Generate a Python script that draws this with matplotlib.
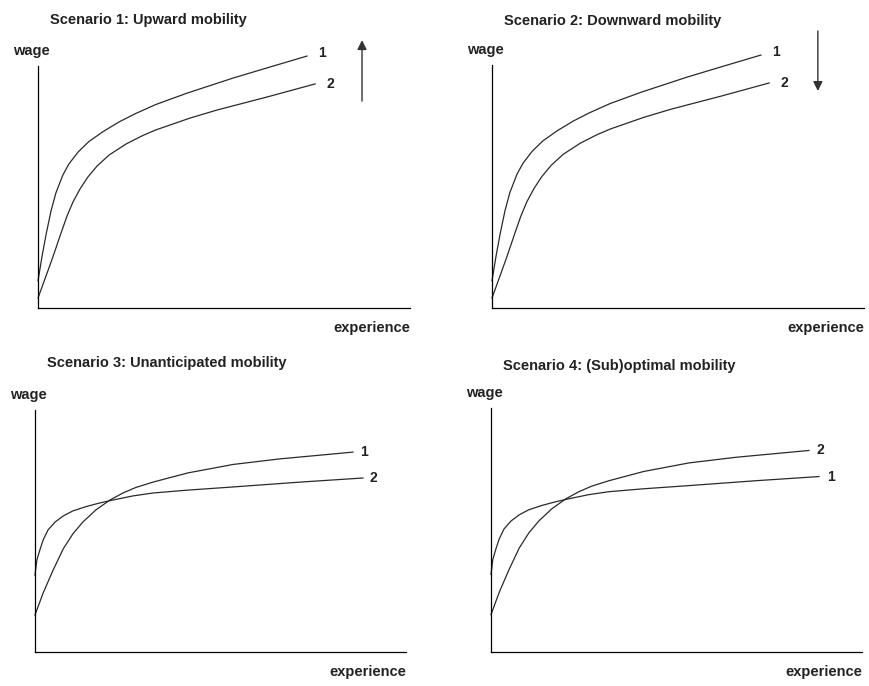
import matplotlib
matplotlib.use('Agg')
import matplotlib.pyplot as plt

W, H = 869, 686

# curves, in axis units (0-100 along each drawn axis)
# scenario 1 and 2 use the same two profiles
high_x = [0, 1.1, 2.2, 3.5, 4.8, 6.7, 8.3, 10.8, 13.7, 17.5, 21.8, 26.3, 31.7, 40.1, 52.4, 62.4, 72.3]
high_y = [11.2, 21.5, 30.6, 40.1, 47.5, 55.0, 59.5, 64.5, 68.8, 72.9, 76.9, 80.4, 84.1, 88.8, 95.0, 99.6, 104.1]
low_x = [0, 3.8, 6.2, 7.8, 9.4, 11.3, 13.4, 15.9, 19.1, 23.7, 28.2, 31.7, 40.9, 48.1, 61.6, 74.5]
low_y = [4.1, 20.2, 31.0, 38.0, 43.8, 49.2, 54.1, 58.7, 63.2, 67.8, 71.3, 73.6, 78.5, 81.8, 87.2, 92.6]

# scenario 3 and 4: one profile flattens early, the other keeps rising
flat_x = [0, 0.5, 1.4, 2.2, 3.5, 5.4, 7.6, 10.2, 13.8, 17.5, 21.0, 26.4, 31.8, 41.2, 53.4, 71.4, 88.4]
flat_y = [31.8, 38.0, 42.6, 46.3, 50.4, 53.7, 56.2, 58.3, 60.1, 61.6, 62.8, 64.5, 65.7, 66.9, 68.2, 70.2, 71.9]
rise_x = [0, 2.2, 4.9, 7.6, 10.2, 12.9, 16.4, 20.2, 23.7, 27.2, 31.8, 41.2, 53.4, 66.0, 85.7]
rise_y = [15.3, 24.4, 33.9, 42.6, 48.8, 53.7, 58.7, 62.8, 65.7, 68.0, 70.2, 74.0, 77.5, 79.8, 82.6]

titles = ['Scenario 1: Upward mobility',
          'Scenario 2: Downward mobility',
          'Scenario 3: Unanticipated mobility',
          'Scenario 4: (Sub)optimal mobility']

panel_curves = [
    [(high_x, high_y, '1'), (low_x, low_y, '2')],
    [(high_x, high_y, '1'), (low_x, low_y, '2')],
    [(rise_x, rise_y, '1'), (flat_x, flat_y, '2')],
    [(rise_x, rise_y, '2'), (flat_x, flat_y, '1')],
]

# axes boxes in pixels: origin x, origin y, x-axis length, y-axis length
boxes = [(38, 308, 372, 242), (492, 308, 372, 243),
         (35, 652, 371, 242), (491, 652, 371, 244)]
label_dx = [11, 11, 7, 8]
title_dy = [46, 44, 47, 42]
# arrow (x, tail y, head y) for the first two scenarios
arrows = [(87.1, 85.5, 110.7), (87.6, 114.0, 89.3), None, None]

plt.rcParams['font.family'] = ['Liberation Sans', 'DejaVu Sans']
fig = plt.figure(figsize=(W / 100, H / 100), dpi=100)

for i in range(4):
    ox, oy, w, h = boxes[i]
    ax = fig.add_axes([ox / W, (H - oy) / H, w / W, h / H])
    ax.set_xlim(0, 100)
    ax.set_ylim(0, 100)
    for s in ['top', 'right']:
        ax.spines[s].set_visible(False)
    for s in ['left', 'bottom']:
        ax.spines[s].set_linewidth(0.9)
        ax.spines[s].set_color('black')
    ax.set_xticks([])
    ax.set_yticks([])
    ax.patch.set_alpha(0)

    for cx, cy, lab in panel_curves[i]:
        ax.plot(cx, cy, color='#2a2a2a', lw=0.9, clip_on=False)
        dy = 3 if (lab == '1' and i < 2) else 0
        ax.annotate(lab, xy=(cx[-1], cy[-1]), xytext=(label_dx[i], dy),
                    textcoords='offset pixels', ha='left', va='center',
                    fontsize=10, fontweight='bold', color='#222',
                    annotation_clip=False)

    ax.annotate(titles[i], xy=(0, 1), xycoords='axes fraction',
                xytext=(12, title_dy[i]), textcoords='offset pixels',
                ha='left', va='center', fontsize=10.5, fontweight='bold',
                color='#222', annotation_clip=False)
    ax.annotate('wage', xy=(0, 1), xycoords='axes fraction',
                xytext=(-25, 15), textcoords='offset pixels',
                ha='left', va='center', fontsize=10.5, fontweight='bold',
                color='#222', annotation_clip=False)
    ax.annotate('experience', xy=(1, 0), xycoords='axes fraction',
                xytext=(0, -20), textcoords='offset pixels',
                ha='right', va='center', fontsize=10.5, fontweight='bold',
                color='#222', annotation_clip=False)

    if arrows[i] is not None:
        axx, y0, y1 = arrows[i]
        ax.annotate('', xy=(axx, y1), xytext=(axx, y0),
                    arrowprops=dict(arrowstyle='-|>', color='#333', lw=1,
                                    mutation_scale=14, shrinkA=0, shrinkB=0),
                    annotation_clip=False)

fig.savefig('out.png', dpi=100, facecolor='white')
